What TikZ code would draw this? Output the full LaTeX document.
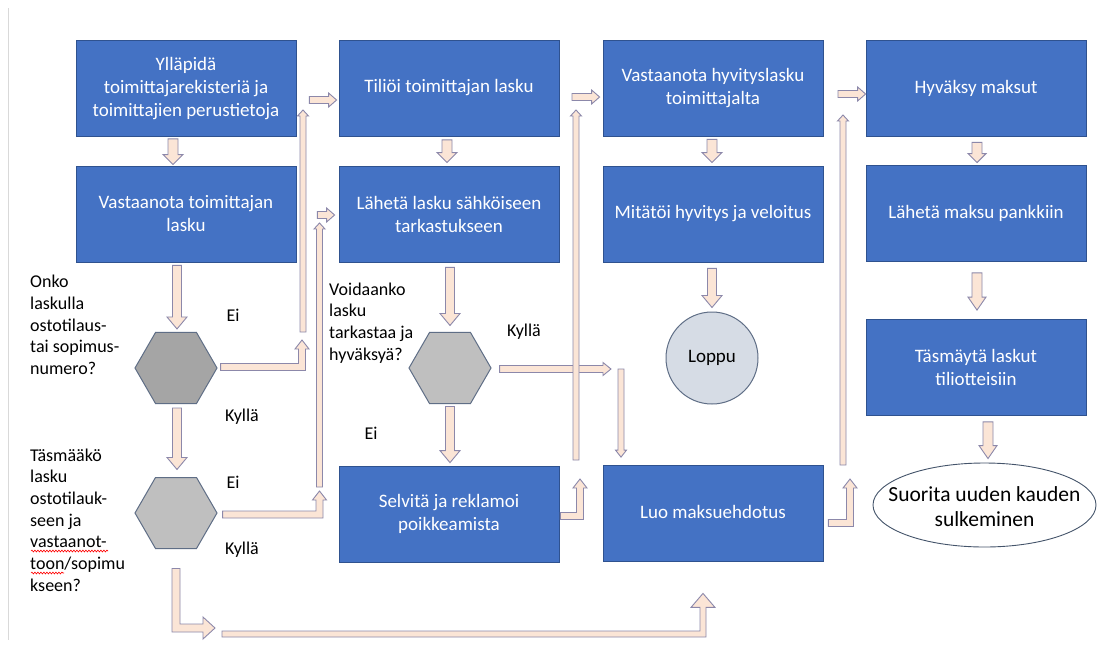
\documentclass[tikz,border=0pt]{standalone}
\usepackage{fontspec}
\setmainfont{Carlito}
\usetikzlibrary{calc,shapes.geometric,decorations.pathmorphing}
\definecolor{boxblue}{HTML}{4472C4}
\definecolor{boxedge}{HTML}{2F528F}
\definecolor{peach}{HTML}{FBE5D6}
\definecolor{arredge}{HTML}{8C88AA}
\definecolor{hexdark}{HTML}{A5A5A5}
\definecolor{hexlight}{HTML}{BFBFBF}
\definecolor{hexedge}{HTML}{5F6E86}
\definecolor{loppufill}{HTML}{D6DCE5}
\definecolor{ellipseedge}{HTML}{44546A}
\definecolor{framegray}{HTML}{D9D9D9}
% block arrows: #1 start, #2 tip, #3 shaft half width, #4 head half width, #5 head length
\newcommand\dnA[5]{\draw[blk] let \p1=(#1), \p2=(#2) in (\x1-#3pt,\y1) -- (\x1+#3pt,\y1) -- (\x1+#3pt,\y2+#5pt) -- (\x1+#4pt,\y2+#5pt) -- (\x1,\y2) -- (\x1-#4pt,\y2+#5pt) -- (\x1-#3pt,\y2+#5pt) -- cycle;}
\newcommand\upA[5]{\draw[blk] let \p1=(#1), \p2=(#2) in (\x1-#3pt,\y1) -- (\x1+#3pt,\y1) -- (\x1+#3pt,\y2-#5pt) -- (\x1+#4pt,\y2-#5pt) -- (\x1,\y2) -- (\x1-#4pt,\y2-#5pt) -- (\x1-#3pt,\y2-#5pt) -- cycle;}
\newcommand\rtA[5]{\draw[blk] let \p1=(#1), \p2=(#2) in (\x1,\y1-#3pt) -- (\x2-#5pt,\y1-#3pt) -- (\x2-#5pt,\y1-#4pt) -- (\x2,\y1) -- (\x2-#5pt,\y1+#4pt) -- (\x2-#5pt,\y1+#3pt) -- (\x1,\y1+#3pt) -- cycle;}
\newcommand\ruA[5]{\draw[blk] let \p1=(#1), \p2=(#2) in (\x1,\y1-#3pt) -- (\x2+#3pt,\y1-#3pt) -- (\x2+#3pt,\y2-#5pt) -- (\x2+#4pt,\y2-#5pt) -- (\x2,\y2) -- (\x2-#4pt,\y2-#5pt) -- (\x2-#3pt,\y2-#5pt) -- (\x2-#3pt,\y1+#3pt) -- (\x1,\y1+#3pt) -- cycle;}
\newcommand\drA[5]{\draw[blk] let \p1=(#1), \p2=(#2) in (\x1-#3pt,\y1) -- (\x1-#3pt,\y2-#3pt) -- (\x2-#5pt,\y2-#3pt) -- (\x2-#5pt,\y2-#4pt) -- (\x2,\y2) -- (\x2-#5pt,\y2+#4pt) -- (\x2-#5pt,\y2+#3pt) -- (\x1+#3pt,\y2+#3pt) -- (\x1+#3pt,\y1) -- cycle;}
\begin{document}
\begin{tikzpicture}[x=1pt,y=-1pt,
 box/.style={rectangle, fill=boxblue, draw=boxedge, line width=0.8pt, minimum width=220pt, minimum height=96pt, inner sep=0pt, text=white, align=center, font=\fontsize{19}{23}\selectfont},
 hexa/.style={regular polygon, regular polygon sides=6, minimum size=82pt, inner sep=0pt, draw=hexedge, line width=1pt},
 lbl/.style={inner sep=0pt, anchor=west, align=left, font=\fontsize{18}{21.7}\selectfont},
 yn/.style={inner sep=0pt, font=\fontsize{18}{21.7}\selectfont},
 blk/.style={fill=peach, draw=arredge, line width=0.9pt, line join=miter},
 squiggle/.style={draw=red, line width=0.6pt, decorate, decoration={snake, amplitude=0.9pt, segment length=3pt}}
]
\useasboundingbox (0,0) rectangle (1098,646);
\fill[white] (0,0) rectangle (1098,646);
\draw[framegray, line width=1pt] (8,8) -- (8,640);

% boxes
\node[box] (A) at (186,88.5) {Ylläpidä\\toimittajarekisteriä ja\\toimittajien perustietoja};
\node[box] (B) at (186,214) {Vastaanota toimittajan\\lasku};
\node[box] (C) at (449,88) {Tiliöi toimittajan lasku};
\node[box] (D) at (449,214) {Lähetä lasku sähköiseen\\tarkastukseen};
\node[box] (E) at (449,514) {\raisebox{-7pt}{\begin{tabular}{@{}c@{}}Selvitä ja reklamoi\\poikkeamista\end{tabular}}};
\node[box] (F) at (713,88.5) {Vastaanota hyvityslasku\\toimittajalta};
\node[box] (G) at (713,214) {Mitätöi hyvitys ja veloitus};
\node[box] (H) at (713,513.5) {\raisebox{3pt}{Luo maksuehdotus}};
\node[box] (I) at (976,88.5) {Hyväksy maksut};
\node[box] (J) at (976,213.5) {Lähetä maksu pankkiin};
\node[box] (K) at (976,367.5) {Täsmäytä laskut\\tiliotteisiin};

% decisions
\node[hexa, fill=hexdark] (h1) at (176,368) {};
\node[hexa, fill=hexlight] (h2) at (176,513) {};
\node[hexa, fill=hexlight] (h3) at (450,368) {};

% end shapes
\node[circle, fill=loppufill, draw=hexedge, line width=1pt, minimum size=92pt, inner sep=0pt, font=\fontsize{19}{23}\selectfont] (L) at (712,358) {Loppu};
\node[ellipse, draw=ellipseedge, fill=white, line width=0.9pt, minimum width=223pt, minimum height=84pt, inner sep=0pt,
  label={[font=\fontsize{21.5}{25}\selectfont, align=center, yshift=-2pt]center:{Suorita uuden kauden\\sulkeminen}}] (M) at (984.5,505) {};

% question texts
\node[lbl] (q1) at (30,325) {Onko\\laskulla\\ostotilaus-\\tai sopimus-\\numero?};
\node[lbl] (q2) at (30,520) {Täsmääkö\\lasku\\ostotilauk-\\seen ja\\vastaanot-\\toon/sopimu\\kseen?};
\node[lbl] (q3) at (329,323) {Voidaanko\\lasku\\tarkastaa ja\\hyväksyä?};
\draw[squiggle] (31,551) -- (108,551);
\draw[squiggle] (31,573) -- (64,573);

% yes / no
\node[yn] (e1) at (233,315) {Ei};
\node[yn] (y1) at (242,417) {Kyllä};
\node[yn] (e2) at (233,482) {Ei};
\node[yn] (y2) at (242,550) {Kyllä};
\node[yn] (y3) at (524,332) {Kyllä};
\node[yn] (e3) at (371,433) {Ei};

% free connector ends
\coordinate (p4) at (215,628);
\coordinate (p5) at (222,634);
\coordinate (p6) at (302,340);
\coordinate (p7a) at (303,332);
\coordinate (p7b) at (303,110);
\coordinate (p9) at (319.5,491);
\coordinate (p10a) at (319.5,487);
\coordinate (p10b) at (319.5,223);
\coordinate (p15) at (611,369);
\coordinate (p16) at (621,369);
\coordinate (p17) at (580,479);
\coordinate (p18a) at (576,460);
\coordinate (p18b) at (576,110);
\coordinate (p19) at (572,97);
\coordinate (p22) at (850,479);
\coordinate (p23a) at (843,465);
\coordinate (p23b) at (843,115);
\coordinate (p24) at (838,94);

% connector anchors near nodes
\coordinate (a1s) at ($(A.south)+(-13,2)$);
\coordinate (a1t) at ($(B.north)+(-13,-1)$);
\coordinate (a2s) at ($(B.south)+(-9,3)$);
\coordinate (a2t) at ($(h1.north)+(1,-3)$);
\coordinate (a3s) at ($(h1.south)+(1,4)$);
\coordinate (a3t) at ($(h2.north)+(1,-7.5)$);
\coordinate (a4s) at ($(h2.south)+(0,19.5)$);
\coordinate (a5t) at ($(H.south)+(-10,31.5)$);
\coordinate (a6s) at ($(h1.east)+(3,-1)$);
\coordinate (a8s) at ($(A.east)+(13,11.5)$);
\coordinate (a8t) at ($(C.west)+(-2,12)$);
\coordinate (a9s) at ($(h2.east)+(5,1.5)$);
\coordinate (a11s) at ($(B.east)+(21,1)$);
\coordinate (a11t) at ($(D.west)+(-4,1)$);
\coordinate (a12s) at ($(C.south)+(-2,3.5)$);
\coordinate (a12t) at ($(D.north)+(-2,-3)$);
\coordinate (a13s) at ($(D.south)+(1,5)$);
\coordinate (a13t) at ($(h3.north)+(0,-6.5)$);
\coordinate (a14s) at ($(h3.south)+(0,2.5)$);
\coordinate (a14t) at ($(E.north)+(1,-3)$);
\coordinate (a15s) at ($(h3.east)+(8,1)$);
\coordinate (a16t) at ($(H.north)+(-92,-8)$);
\coordinate (a17s) at ($(E.east)+(1,2)$);
\coordinate (a19t) at ($(F.west)+(-3,8.5)$);
\coordinate (a20s) at ($(F.south)+(-1,2.5)$);
\coordinate (a20t) at ($(G.north)+(-1,-3)$);
\coordinate (a21s) at ($(G.south)+(-1,6)$);
\coordinate (a21t) at ($(L.north)+(0,-4)$);
\coordinate (a22s) at ($(H.east)+(5,9.5)$);
\coordinate (a24t) at ($(I.west)+(0,5.5)$);
\coordinate (a25s) at ($(I.south)+(1,5.5)$);
\coordinate (a25t) at ($(J.north)+(1,-2.5)$);
\coordinate (a26s) at ($(J.south)+(1,11)$);
\coordinate (a26t) at ($(K.north)+(1,-9)$);
\coordinate (a27s) at ($(K.south)+(12,6)$);
\coordinate (a27t) at ($(M.north)+(3.5,-4)$);

% connectors (block arrows)
\dnA{a1s}{a1t}{5}{10}{10}
\dnA{a2s}{a2t}{4.5}{10}{12}
\dnA{a3s}{a3t}{4.5}{10}{12}
\drA{a4s}{p4}{4}{11}{12}
\ruA{p5}{a5t}{3}{12}{14}
\ruA{a6s}{p6}{3.5}{7}{9}
\upA{p7a}{p7b}{3}{5.5}{6}
\rtA{a8s}{a8t}{3.5}{7}{8}
\ruA{a9s}{p9}{3.5}{7}{9}
\upA{p10a}{p10b}{3}{5.5}{6}
\rtA{a11s}{a11t}{3.5}{7}{8}
\dnA{a12s}{a12t}{5}{10}{10}
\dnA{a13s}{a13t}{4.5}{10}{12}
\dnA{a14s}{a14t}{4.5}{10}{12}
\rtA{a15s}{p15}{3.5}{6.5}{8}
\dnA{p16}{a16t}{3}{5.5}{7}
\ruA{a17s}{p17}{3.5}{7}{9}
\upA{p18a}{p18b}{3}{5.5}{6}
\rtA{p19}{a19t}{3.5}{7}{8}
\dnA{a20s}{a20t}{5}{10}{10}
\dnA{a21s}{a21t}{4.5}{10}{12}
\ruA{a22s}{p22}{3.5}{7}{9}
\upA{p23a}{p23b}{3}{5.5}{6}
\rtA{p24}{a24t}{3.5}{7}{8}
\dnA{a25s}{a25t}{5}{9}{9}
\dnA{a26s}{a26t}{5}{9}{13}
\dnA{a27s}{a27t}{5}{9}{13}
\end{tikzpicture}
\end{document}
